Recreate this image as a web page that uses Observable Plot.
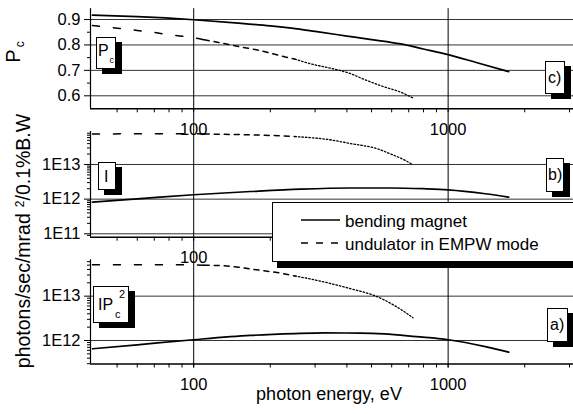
<!DOCTYPE html>
<html><head><meta charset="utf-8">
<script src="https://cdn.jsdelivr.net/npm/d3@7"></script>
<script src="https://cdn.jsdelivr.net/npm/@observablehq/plot@0.6"></script>
<style>
body{margin:0;background:#fff;font-family:"Liberation Sans",Arial,sans-serif;}
#chart{position:relative;width:573px;height:414px;overflow:hidden;background:#fff;}
#chart svg{position:absolute;left:0;top:0;}
.box{position:absolute;box-sizing:border-box;background:#fff;border:1px solid #000;box-shadow:6px 5px 0 0 #000;color:#000;}
.box span{position:absolute;line-height:1;white-space:nowrap;}
#legend{position:absolute;left:272px;top:202px;width:330px;height:60px;box-sizing:border-box;background:#fff;border:1px solid #000;box-shadow:5px 6px 0 0 #000;}
#legend .t{position:absolute;left:72px;font-size:17px;line-height:1;white-space:nowrap;}
</style></head><body><div id="chart"></div>
<script>
// ---- data ----
const xDomain = [39.3, 3110];
const xMajor = [100, 1000];
const xMinor = [50, 60, 70, 80, 90, 200, 300, 400, 500, 600, 700, 800, 900, 2000, 3000];

// Panel c) degree of circular polarization Pc
const bmPcEnergy = [40, 60, 100, 150, 200, 255, 300, 400, 500, 650, 800, 1000, 1300, 1730];
const bmPc = [0.917, 0.911, 0.899, 0.886, 0.875, 0.863, 0.853, 0.835, 0.821, 0.804, 0.784, 0.762, 0.730, 0.695];
const undPcEnergy = [40, 50, 60, 70, 80, 100, 110, 125, 150, 180, 220, 250, 290, 350, 400, 480, 550, 652, 725];
const undPc = [0.876, 0.866, 0.857, 0.849, 0.840, 0.828, 0.820, 0.810, 0.794, 0.779, 0.757, 0.744, 0.725, 0.707, 0.692, 0.660, 0.638, 0.614, 0.592];

// Panel b) intensity I
const bmIEnergy = [40, 60, 100, 167, 264, 414, 600, 800, 1000, 1400, 1730];
const bmI = [8.2e11, 1.02e12, 1.34e12, 1.66e12, 1.95e12, 2.1e12, 2.1e12, 2.0e12, 1.86e12, 1.43e12, 1.14e12];
const undIEnergy = [40, 70, 100, 110, 150, 200, 250, 300, 335, 415, 530, 595, 660, 725];
const undI = [7.6e13, 7.7e13, 7.7e13, 7.6e13, 7.3e13, 6.9e13, 6.4e13, 5.8e13, 5.3e13, 4.0e13, 2.8e13, 2.0e13, 1.45e13, 1.0e13];

// Panel a) I * Pc^2
const bmIPc2Energy = [40, 60, 100, 167, 250, 325, 450, 560, 750, 1000, 1400, 1730];
const bmIPc2 = [6.5e11, 8.0e11, 1.04e12, 1.3e12, 1.43e12, 1.48e12, 1.47e12, 1.41e12, 1.22e12, 1.04e12, 7.3e11, 5.45e11];
const undIPc2Energy = [40, 80, 110, 140, 167, 226, 250, 306, 414, 511, 614, 728];
const undIPc2 = [5.1e13, 5.1e13, 5.0e13, 4.7e13, 4.1e13, 3.2e13, 2.85e13, 2.26e13, 1.47e13, 1.04e13, 6.2e12, 3.25e12];

// y ticks
const pcMajor = [0.6, 0.7, 0.8, 0.9];
const pcMinor = [0.65, 0.75, 0.85];
const iMajor = [1e11, 1e12, 1e13];
const iMinor = [9e10, 2e11, 3e11, 4e11, 5e11, 6e11, 7e11, 8e11, 9e11, 2e12, 3e12, 4e12, 5e12, 6e12, 7e12, 8e12, 9e12, 2e13, 3e13, 4e13, 5e13, 6e13, 7e13, 8e13];
const ipMajor = [1e12, 1e13];
const ipMinor = [3e11, 4e11, 5e11, 6e11, 7e11, 8e11, 9e11, 2e12, 3e12, 4e12, 5e12, 6e12, 7e12, 8e12, 9e12, 2e13, 3e13, 4e13, 5e13, 6e13];

// ---- drawing ----
const W = 573, H = 414;
const FONT = "'Liberation Sans', Arial, sans-serif";
const rows = (es, vs) => es.map((e, i) => ({e, v: vs[i]}));
const seg = (r, lo, hi) => r.filter(d => d.e >= lo && d.e <= hi);
const sci = d => "1E" + Math.round(Math.log10(d));

function panel(cfg) {
  const bm = rows(cfg.bmE, cfg.bmV), und = rows(cfg.undE, cfg.undV);
  const marks = [
    Plot.gridY(cfg.yMajor, {stroke: "#333", strokeOpacity: 1, strokeWidth: 1}),
    Plot.ruleX(xMajor, {stroke: "#000", strokeWidth: 1, insetBottom: -cfg.gapBelow}),
    Plot.ruleX([xDomain[0]], {stroke: "#000", strokeWidth: 1.2}),
    Plot.ruleY([cfg.yDomain[0]], {stroke: "#000", strokeWidth: 1.6}),
    Plot.axisX(xMinor.concat(xMajor.filter(d => !cfg.xLabels.includes(d))), {tickSize: 4, tickFormat: () => "", label: null}),
    Plot.axisX(cfg.xLabels, {tickSize: 4, tickPadding: 10, tickFormat: d => String(d), label: null}),
    Plot.axisY(cfg.yMinor, {tickSize: 3, tickFormat: () => "", label: null}),
    Plot.axisY(cfg.yMajor, {tickSize: 6, tickPadding: 4, tickFormat: cfg.yFormat, label: null}),
    Plot.line(bm, {x: "e", y: "v", stroke: "#000", strokeWidth: 1.7, curve: "monotone-x"}),
    Plot.line(seg(und, 0, 110), {x: "e", y: "v", stroke: "#000", strokeWidth: 1.5, strokeDasharray: "7,14", curve: "monotone-x"}),
    Plot.line(seg(und, 110, 250), {x: "e", y: "v", stroke: "#000", strokeWidth: 1.5, strokeDasharray: "5,5", curve: "monotone-x"}),
    Plot.line(seg(und, 250, 5000), {x: "e", y: "v", stroke: "#000", strokeWidth: 1.3, strokeDasharray: "1.5,2", curve: "monotone-x"})
  ];
  return Plot.plot({
    width: W, height: H,
    marginLeft: 90, marginRight: 0, marginTop: cfg.top, marginBottom: H - cfg.bottom,
    x: {type: "log", domain: xDomain},
    y: {type: cfg.yType, domain: cfg.yDomain},
    style: {background: "transparent", overflow: "visible", fontFamily: FONT, fontSize: "16.5px", color: "#000"},
    marks
  });
}

const chart = document.getElementById("chart");
chart.append(panel({top: 8.2, bottom: 108.3, gapBelow: 22.7, yType: "linear", yDomain: [0.5489, 0.9425],
  yMajor: pcMajor, yMinor: pcMinor, yFormat: d => d.toFixed(1), xLabels: [100, 1000],
  bmE: bmPcEnergy, bmV: bmPc, undE: undPcEnergy, undV: undPc}));
// middle panel: its "1000" label lies under the legend in the reference
chart.append(panel({top: 131, bottom: 236.7, gapBelow: 22.6, yType: "log", yDomain: [7.98e10, 8.96e13],
  yMajor: iMajor, yMinor: iMinor, yFormat: sci, xLabels: [100],
  bmE: bmIEnergy, bmV: bmI, undE: undIEnergy, undV: undI}));
chart.append(panel({top: 259.3, bottom: 363.5, gapBelow: 4, yType: "log", yDomain: [2.95e11, 6.6e13],
  yMajor: ipMajor, yMinor: ipMinor, yFormat: sci, xLabels: [100, 1000],
  bmE: bmIPc2Energy, bmV: bmIPc2, undE: undIPc2Energy, undV: undIPc2}));

// axis titles (real text)
const t = d3.create("svg").attr("width", W).attr("height", H)
  .style("font-family", FONT).style("overflow", "visible");
const pcT = t.append("text").attr("transform", "translate(20,52) rotate(-90)").attr("text-anchor", "middle").attr("font-size", 20);
pcT.append("tspan").text("P");
pcT.append("tspan").attr("font-size", 12).attr("dx", 2).attr("dy", 4).text("c");
const yT = t.append("text").attr("transform", "translate(30,241) rotate(-90)").attr("text-anchor", "middle").attr("font-size", 19.5);
yT.append("tspan").text("photons/sec/mrad");
yT.append("tspan").attr("font-size", 12).attr("dx", 6).attr("dy", -6).text("2");
yT.append("tspan").attr("dy", 6).text("/0.1%B.W");
t.append("text").attr("x", 329).attr("y", 400).attr("text-anchor", "middle").attr("font-size", 18).text("photon energy, eV");
chart.append(t.node());

// panel label boxes
function box(left, top, w, h, html) {
  const d = document.createElement("div");
  d.className = "box";
  Object.assign(d.style, {left: left + "px", top: top + "px", width: w + "px", height: h + "px"});
  d.innerHTML = html;
  chart.append(d);
}
box(96, 37, 20, 32, '<span style="left:1px;top:5px;font-size:16px">P</span><span style="left:12.5px;top:18px;font-size:9px">c</span>');
box(98, 162, 18, 28, '<span style="left:5px;top:6px;font-size:16px">I</span>');
box(93, 286, 36, 37, '<span style="left:4px;top:10px;font-size:16px">IP</span><span style="left:25px;top:2px;font-size:11px">2</span><span style="left:21px;top:22px;font-size:11px">c</span>');
box(545, 61, 20, 33, '<span style="left:2px;top:8px;font-size:16px">c)</span>');
box(546, 158, 18, 34, '<span style="left:1px;top:8px;font-size:16px">b)</span>');
box(547, 308, 21, 34, '<span style="left:2px;top:8px;font-size:16px">a)</span>');

// legend
const lg = document.createElement("div");
lg.id = "legend";
lg.innerHTML = '<svg width="60" height="60" style="position:absolute;left:0;top:0;overflow:visible">'
  + '<line x1="28" x2="67" y1="17" y2="17" stroke="#000" stroke-width="1.6"/>'
  + '<line x1="28" x2="69" y1="40" y2="40" stroke="#000" stroke-width="1.6" stroke-dasharray="7,8"/></svg>'
  + '<div class="t" style="top:10px">bending magnet</div>'
  + '<div class="t" style="top:33px">undulator in EMPW mode</div>';
chart.append(lg);
</script></body></html>
